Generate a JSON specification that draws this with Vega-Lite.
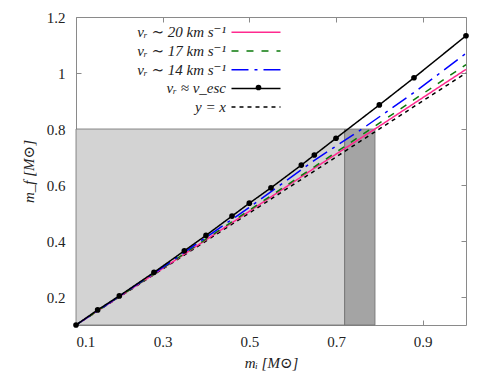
{
  "$schema": "https://vega.github.io/schema/vega-lite/v6.json",
  "width": 390,
  "height": 308,
  "autosize": {"type": "none"},
  "padding": {"left": 76, "top": 17, "right": 32, "bottom": 57},
  "background": "white",
  "config": {
    "view": {"stroke": "#8a8a8a", "strokeWidth": 1},
    "font": "Liberation Serif, DejaVu Serif, serif",
    "axis": {
      "labelFont": "Liberation Serif, DejaVu Serif, serif", "labelFontSize": 15, "labelColor": "#222222",
      "titleFont": "Liberation Serif, DejaVu Serif, serif", "titleFontSize": 15, "titleFontWeight": "normal", "titleColor": "#222222",
      "grid": false, "domain": false, "tickColor": "#8a8a8a", "tickSize": -5, "tickWidth": 1
    }
  },
  "datasets": {
    "shades": [
      {"x1": 0.1, "x2": 0.72, "y1": 0.1, "y2": 0.8, "shade": "light"},
      {"x1": 0.72, "x2": 0.79, "y1": 0.1, "y2": 0.8, "shade": "dark"}
    ],
    "curves": [
      {"series": "yx", "x": 0.1, "y": 0.1},
      {"series": "yx", "x": 1.0, "y": 1.0},
      {"series": "v20", "x": 0.1, "y": 0.1},
      {"series": "v20", "x": 0.3, "y": 0.302},
      {"series": "v20", "x": 0.5, "y": 0.506},
      {"series": "v20", "x": 0.65, "y": 0.66},
      {"series": "v20", "x": 0.79, "y": 0.8},
      {"series": "v20", "x": 1.0, "y": 1.013},
      {"series": "v17", "x": 0.1, "y": 0.1},
      {"series": "v17", "x": 0.3, "y": 0.303},
      {"series": "v17", "x": 0.5, "y": 0.51},
      {"series": "v17", "x": 0.65, "y": 0.665},
      {"series": "v17", "x": 0.78, "y": 0.8},
      {"series": "v17", "x": 1.0, "y": 1.03},
      {"series": "v14", "x": 0.1, "y": 0.1},
      {"series": "v14", "x": 0.3, "y": 0.306},
      {"series": "v14", "x": 0.5, "y": 0.52},
      {"series": "v14", "x": 0.65, "y": 0.688},
      {"series": "v14", "x": 0.76, "y": 0.8},
      {"series": "v14", "x": 0.88, "y": 0.93},
      {"series": "v14", "x": 1.0, "y": 1.07},
      {"series": "vesc", "x": 0.1, "y": 0.1},
      {"series": "vesc", "x": 0.15, "y": 0.154},
      {"series": "vesc", "x": 0.2, "y": 0.204},
      {"series": "vesc", "x": 0.28, "y": 0.288},
      {"series": "vesc", "x": 0.35, "y": 0.365},
      {"series": "vesc", "x": 0.4, "y": 0.42},
      {"series": "vesc", "x": 0.46, "y": 0.489},
      {"series": "vesc", "x": 0.5, "y": 0.535},
      {"series": "vesc", "x": 0.55, "y": 0.59},
      {"series": "vesc", "x": 0.62, "y": 0.671},
      {"series": "vesc", "x": 0.65, "y": 0.707},
      {"series": "vesc", "x": 0.7, "y": 0.767},
      {"series": "vesc", "x": 0.8, "y": 0.886},
      {"series": "vesc", "x": 0.88, "y": 0.983},
      {"series": "vesc", "x": 1.0, "y": 1.133}
    ]
  },
  "layer": [
    {
      "data": {"name": "shades"},
      "mark": {"type": "rect", "stroke": "#6e6e6e", "strokeWidth": 0.8},
      "encoding": {
        "x": {"field": "x1", "type": "quantitative", "scale": {"domain": [0.1, 1], "nice": false, "zero": false},
              "axis": {"orient": "top", "values": [0.1, 0.3, 0.5, 0.7, 0.9], "labels": false, "title": null}},
        "x2": {"field": "x2"},
        "y": {"field": "y1", "type": "quantitative", "scale": {"domain": [0.1, 1.2], "nice": false, "zero": false},
              "axis": {"orient": "right", "values": [0.2, 0.4, 0.6, 0.8, 1, 1.2], "labels": false, "title": null}},
        "y2": {"field": "y2"},
        "fill": {"field": "shade", "type": "nominal", "scale": {"domain": ["light", "dark"], "range": ["#d3d3d3", "#a4a4a4"]}, "legend": null}
      }
    },
    {
      "data": {"name": "curves"},
      "mark": {"type": "line"},
      "encoding": {
        "x": {"field": "x", "type": "quantitative", "scale": {"domain": [0.1, 1], "nice": false, "zero": false},
              "axis": {"orient": "bottom", "values": [0.1, 0.3, 0.5, 0.7, 0.9], "format": ".1f", "labelPadding": 14, "title": "mᵢ [M⊙]", "titlePadding": 6, "titleFontStyle": "italic"}},
        "y": {"field": "y", "type": "quantitative", "scale": {"domain": [0.1, 1.2], "nice": false, "zero": false},
              "axis": {"orient": "left", "values": [0.2, 0.4, 0.6, 0.8, 1, 1.2], "format": "~g", "labelPadding": 16, "title": "m_f [M⊙]", "titlePadding": 10, "titleFontStyle": "italic"}},
        "color": {
          "field": "series", "type": "nominal",
          "scale": {"domain": ["v20", "v17", "v14", "vesc", "yx"], "range": ["#ff2a8f", "#0b7a0b", "#0000ff", "#000000", "#000000"]},
          "legend": {
            "title": null, "orient": "none", "legendX": 171, "legendY": 6.3, "padding": 0,
            "symbolType": "M-3,0H3", "symbolSize": 267, "symbolStrokeWidth": 1.6,
            "labelAlign": "right", "labelOffset": -39, "labelFont": "Liberation Serif, DejaVu Serif, serif", "labelFontSize": 15,
            "labelFontStyle": "italic", "labelColor": "#222222", "rowPadding": 1.7, "labelLimit": 300,
            "labelExpr": "datum.value === 'v20' ? 'vᵣ ∼ 20 km s⁻¹' : datum.value === 'v17' ? 'vᵣ ∼ 17 km s⁻¹' : datum.value === 'v14' ? 'vᵣ ∼ 14 km s⁻¹' : datum.value === 'vesc' ? 'vᵣ ≈ v_esc' : 'y = x'"
          }
        },
        "strokeDash": {
          "field": "series", "type": "nominal",
          "scale": {"domain": ["v20", "v17", "v14", "vesc", "yx"], "range": [[1, 0], [7, 8], [17, 6, 3, 6], [1, 0], [4, 4]]},
          "legend": {
            "title": null, "orient": "none", "legendX": 171, "legendY": 6.3, "padding": 0,
            "symbolType": "M-3,0H3", "symbolSize": 267, "symbolStrokeWidth": 1.6,
            "labelAlign": "right", "labelOffset": -39, "labelFont": "Liberation Serif, DejaVu Serif, serif", "labelFontSize": 15,
            "labelFontStyle": "italic", "labelColor": "#222222", "rowPadding": 1.7, "labelLimit": 300,
            "labelExpr": "datum.value === 'v20' ? 'vᵣ ∼ 20 km s⁻¹' : datum.value === 'v17' ? 'vᵣ ∼ 17 km s⁻¹' : datum.value === 'v14' ? 'vᵣ ∼ 14 km s⁻¹' : datum.value === 'vesc' ? 'vᵣ ≈ v_esc' : 'y = x'"
          }
        },
        "strokeWidth": {
          "field": "series", "type": "nominal",
          "scale": {"domain": ["v20", "v17", "v14", "vesc", "yx"], "range": [1.5, 1.5, 1.5, 1.5, 2]},
          "legend": null
        }
      }
    },
    {
      "data": {"name": "curves"},
      "transform": [{"filter": "datum.series === 'vesc'"}],
      "mark": {"type": "point", "filled": true, "size": 32, "opacity": 1},
      "encoding": {
        "x": {"field": "x", "type": "quantitative", "axis": null},
        "y": {"field": "y", "type": "quantitative", "axis": null},
        "shape": {
          "field": "series", "type": "nominal",
          "scale": {"domain": ["vesc"], "range": ["circle"]},
          "legend": {
            "title": null, "orient": "none", "legendX": 179.5, "legendY": 67.5, "padding": 0,
            "symbolSize": 32, "symbolFillColor": "#000000", "symbolStrokeColor": "#000000", "symbolStrokeWidth": 0,
            "labelExpr": "''", "labelFontSize": 1, "labelOffset": 0
          }
        },
        "color": {"value": "#000000"}
      }
    }
  ],
  "resolve": {"axis": {"x": "independent", "y": "independent"}}
}
